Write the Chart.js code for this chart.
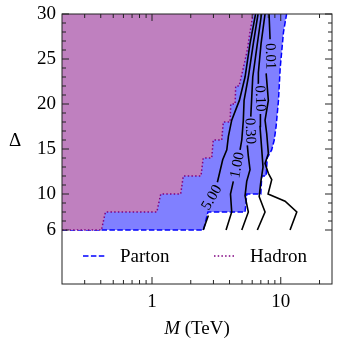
<!DOCTYPE html>
<html><head><meta charset="utf-8">
<script src="https://cdn.jsdelivr.net/npm/chart.js@4.4.0/dist/chart.umd.min.js"></script>
<style>html,body{margin:0;padding:0;background:#fff;}canvas{display:block;}</style>
</head><body>
<canvas id="c" width="339" height="346"></canvas>
<script>
// ---- data ----
const xTicks = [1, 10];
const yTicks = [6, 10, 15, 20, 25, 30];
const xMinor = [0.3, 0.4, 0.5, 0.6, 0.7, 0.8, 0.9, 2, 3, 4, 5, 6, 7, 8, 9, 20];
const yMinor = [7, 8, 9, 11, 12, 13, 14, 16, 17, 18, 19, 21, 22, 23, 24, 26, 27, 28, 29];

// Parton-level exclusion boundary (M in TeV, Delta)
const partonM = [0.2, 2.51, 2.72, 5.28, 5.45, 7.0, 7.12, 7.69, 7.85, 8.5, 8.9, 9.2, 9.6, 9.9, 10.5, 11.1];
const partonD = [6, 6, 8, 8, 10, 10, 12, 12, 14, 14.9, 16, 17.5, 20.4, 24, 28, 30];

// Hadron-level exclusion boundary
const hadronM = [0.2, 0.405, 0.435, 1.09, 1.17, 1.67, 1.75, 2.40, 2.50, 2.91, 2.99, 3.48, 3.58, 4.04, 4.09, 4.42, 4.47, 4.75, 5.12, 5.50, 5.77, 6.10];
const hadronD = [6, 6, 8, 8, 10, 10, 12, 12, 14, 14, 16, 16, 18, 18, 20, 20, 22, 22, 24, 26, 28, 30];

// Contour levels and their lines (null = break for inline label)
const contourLevels = ['5.00', '1.00', '0.30', '0.10', '0.01'];
const c500M = [2.50, 2.74, 2.92, 3.22, 3.54, 3.81, 3.92, 4.16, 4.77, 5.28, 5.77, 6.37];
const c500D = [6, 7.6, null, 11.3, 13.8, 14.9, 16.4, 18.2, 20.4, 23, 26.7, 30];
const c100M = [3.76, 4.16, 4.07, 4.28, 4.62, 4.83, 4.98, 5.12, 5.19, 5.60, 6.12, 6.66];
const c100D = [6, 8, 10, 11.4, null, 14.9, 16, 18.2, 20.4, 23, 26.7, 30];
const c030M = [4.98, 5.60, 5.28, 5.44, 5.77, 5.60, 5.50, 5.77, 5.85, 6.06, 6.58, 7.09];
const c030D = [6, 8, 9.8, 11.4, 12.7, 14.2, 15.4, null, 18.6, 23, 26.7, 30];
const c010M = [6.58, 7.55, 6.80, 6.98, 7.28, 7.12, 6.90, 6.95, 6.90, 6.75, 6.70, 7.03, 7.55];
const c010D = [6, 8, 9.7, 11.2, 13, 14.9, 17.5, 18.9, null, 22.3, 23.5, 26.7, 30];
const c001M = [11.81, 13.32, 10.8, 7.97, 8.51, 8.01, 7.55, 8.01, 7.78, 7.55, 8.01, 7.7, 8.26, 8.26, 8.11];
const c001D = [6, 8, 9.2, 10, 11.6, 12.3, 13.4, 14.5, 16.7, 18.2, 20.4, 23.4, null, 27.2, 30];
// inline label anchor points (data coords)
const labelM = [2.92, 4.62, 5.77, 6.90, 8.26];
const labelD = [9.6, 13.2, 17.0, 20.6, 25.3];

// ---- styling ----
const labelAngle = [-60, -79, 88, 88, 88];
const FONT = 'Liberation Serif';
const FS = 19;
const pts = (ms, ds) => ms.map((m, i) => ({x: m, y: ds[i]}));
const contourSets = [[c500M, c500D], [c100M, c100D], [c030M, c030D], [c010M, c010D], [c001M, c001D]];

const datasets = [
  {label: 'Parton', data: pts(partonM, partonD), borderColor: '#0000ff', borderWidth: 1.5,
   borderDash: [5.5, 2.4], backgroundColor: 'rgb(128,128,255)', fill: 'end', order: 2},
  {label: 'Hadron', data: pts(hadronM, hadronD), borderColor: '#800080', borderWidth: 1.5,
   borderDash: [1.5, 2.2], backgroundColor: 'rgb(191,128,191)', fill: 'end', order: 1}
].concat(contourSets.map((c, i) => ({
  label: contourLevels[i], data: pts(c[0], c[1]), borderColor: '#000', borderWidth: 1.6,
  fill: false, spanGaps: false, order: 0
})));

const decor = {
  id: 'decor',
  afterDatasetsDraw(chart) {
    const {ctx, chartArea: {left, right, top, bottom}, scales: {x, y}} = chart;
    ctx.save();
    // contour labels
    ctx.fillStyle = '#000';
    ctx.font = '15px "' + FONT + '"';
    ctx.textAlign = 'center'; ctx.textBaseline = 'middle';
    contourLevels.forEach((t, i) => {
      ctx.save();
      ctx.translate(x.getPixelForValue(labelM[i]), y.getPixelForValue(labelD[i]));
      ctx.rotate(labelAngle[i] * Math.PI / 180);
      ctx.fillText(t, 0, 0);
      ctx.restore();
    });
    // frame
    ctx.strokeStyle = '#222'; ctx.lineWidth = 1;
    ctx.strokeRect(left, top, right - left, bottom - top);
    // ticks
    ctx.beginPath();
    xTicks.forEach(v => { const p = x.getPixelForValue(v);
      ctx.moveTo(p, bottom); ctx.lineTo(p, bottom - 7); ctx.moveTo(p, top); ctx.lineTo(p, top + 7); });
    xMinor.forEach(v => { const p = x.getPixelForValue(v);
      ctx.moveTo(p, bottom); ctx.lineTo(p, bottom - 4); ctx.moveTo(p, top); ctx.lineTo(p, top + 4); });
    yTicks.forEach(v => { const p = y.getPixelForValue(v);
      ctx.moveTo(left, p); ctx.lineTo(left + 7, p); ctx.moveTo(right, p); ctx.lineTo(right - 7, p); });
    yMinor.forEach(v => { const p = y.getPixelForValue(v);
      ctx.moveTo(left, p); ctx.lineTo(left + 4, p); ctx.moveTo(right, p); ctx.lineTo(right - 4, p); });
    ctx.stroke();
    // legend
    const ly = top + 242;
    ctx.lineWidth = 1.5;
    ctx.strokeStyle = '#0000ff'; ctx.setLineDash([5.5, 2.4]);
    ctx.beginPath(); ctx.moveTo(left + 21, ly); ctx.lineTo(left + 43, ly); ctx.stroke();
    ctx.strokeStyle = '#800080'; ctx.setLineDash([1.5, 2.2]);
    ctx.beginPath(); ctx.moveTo(left + 152, ly); ctx.lineTo(left + 173, ly); ctx.stroke();
    ctx.setLineDash([]);
    ctx.font = FS + 'px "' + FONT + '"';
    ctx.textAlign = 'left'; ctx.textBaseline = 'middle'; ctx.fillStyle = '#000';
    ctx.fillText('Parton', left + 58, ly + 1);
    ctx.fillText('Hadron', left + 188, ly + 1);
    // axis titles
    ctx.textAlign = 'center'; ctx.textBaseline = 'alphabetic';
    ctx.fillText('\u0394', 15, 146);
    ctx.font = 'italic ' + FS + 'px "' + FONT + '"';
    const wM = ctx.measureText('M').width;
    ctx.font = FS + 'px "' + FONT + '"';
    const wR = ctx.measureText(' (TeV)').width;
    const cx = (left + right) / 2, sx = cx - (wM + wR) / 2;
    ctx.textAlign = 'left';
    ctx.font = 'italic ' + FS + 'px "' + FONT + '"';
    ctx.fillText('M', sx, 334);
    ctx.font = FS + 'px "' + FONT + '"';
    ctx.fillText(' (TeV)', sx + wM, 334);
    ctx.restore();
  }
};

const zeroPad = s => { s.paddingTop = 0; s.paddingBottom = 0; s.paddingLeft = 0; s.paddingRight = 0; };

new Chart(document.getElementById('c'), {
  type: 'line',
  data: {datasets},
  options: {
    responsive: false, animation: false, devicePixelRatio: 1, events: [],
    layout: {padding: {left: 0, right: 7, top: 14, bottom: 0}},
    elements: {point: {radius: 0}, line: {tension: 0}},
    plugins: {legend: {display: false}, tooltip: {enabled: false}},
    scales: {
      x: {type: 'logarithmic', min: 0.2, max: 25,
        grid: {display: false, drawTicks: false}, border: {display: false},
        afterBuildTicks: s => { s.ticks = xTicks.map(v => ({value: v})); },
        afterFit: s => { s.height = 62; zeroPad(s); },
        ticks: {padding: 7, color: '#000', autoSkip: false, maxRotation: 0,
          font: {family: FONT, size: FS}, callback: v => String(v)}},
      y: {type: 'linear', min: 0, max: 30,
        grid: {display: false, drawTicks: false}, border: {display: false},
        afterBuildTicks: s => { s.ticks = yTicks.map(v => ({value: v})); },
        afterFit: s => { s.width = 62; zeroPad(s); },
        ticks: {padding: 6, color: '#000', autoSkip: false,
          font: {family: FONT, size: FS}, callback: v => String(v)}}
    }
  },
  plugins: [decor]
});
</script>
</body></html>
